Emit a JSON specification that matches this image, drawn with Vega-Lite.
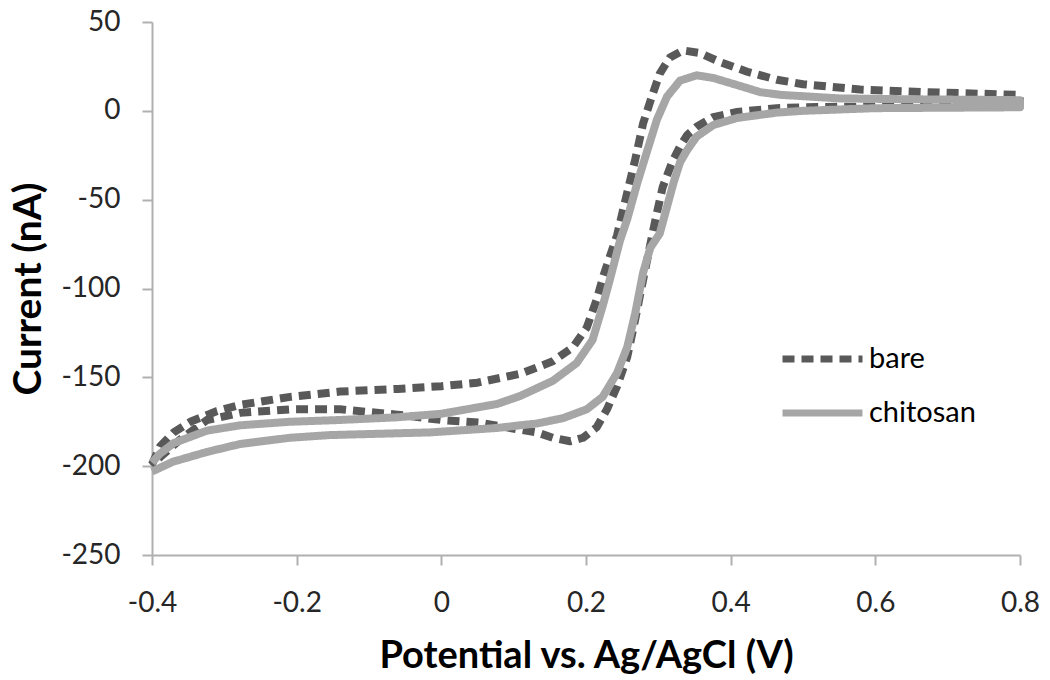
{
  "$schema": "https://vega.github.io/schema/vega-lite/v6.json",
  "width": 868,
  "height": 533,
  "autosize": {"type": "none"},
  "padding": {"left": 152, "top": 22, "right": 30, "bottom": 125},
  "background": "white",
  "config": {
    "view": {"stroke": null},
    "font": "Lato",
    "axis": {
      "grid": false,
      "domainColor": "#b0b0b0",
      "domainWidth": 2,
      "tickColor": "#b0b0b0",
      "tickWidth": 2,
      "tickSize": 10,
      "labelFont": "Lato",
      "labelFontSize": 28,
      "labelColor": "#262626",
      "titleFont": "Lato",
      "titleFontWeight": "bold",
      "titleColor": "#000000"
    }
  },
  "data": {
    "values": [
      {"series": "bare", "idx": 1, "v": -0.4, "i": -199},
      {"series": "bare", "idx": 2, "v": -0.389, "i": -189},
      {"series": "bare", "idx": 3, "v": -0.37, "i": -181},
      {"series": "bare", "idx": 4, "v": -0.347, "i": -175},
      {"series": "bare", "idx": 5, "v": -0.31, "i": -169},
      {"series": "bare", "idx": 6, "v": -0.278, "i": -165.5},
      {"series": "bare", "idx": 7, "v": -0.209, "i": -161},
      {"series": "bare", "idx": 8, "v": -0.14, "i": -158},
      {"series": "bare", "idx": 9, "v": -0.06, "i": -156.5},
      {"series": "bare", "idx": 10, "v": 0.0, "i": -155},
      {"series": "bare", "idx": 11, "v": 0.05, "i": -153},
      {"series": "bare", "idx": 12, "v": 0.109, "i": -148},
      {"series": "bare", "idx": 13, "v": 0.154, "i": -141},
      {"series": "bare", "idx": 14, "v": 0.182, "i": -133},
      {"series": "bare", "idx": 15, "v": 0.201, "i": -122},
      {"series": "bare", "idx": 16, "v": 0.215, "i": -106},
      {"series": "bare", "idx": 17, "v": 0.224, "i": -93},
      {"series": "bare", "idx": 18, "v": 0.233, "i": -82},
      {"series": "bare", "idx": 19, "v": 0.243, "i": -70},
      {"series": "bare", "idx": 20, "v": 0.257, "i": -46},
      {"series": "bare", "idx": 21, "v": 0.268, "i": -27.5},
      {"series": "bare", "idx": 22, "v": 0.279, "i": -7},
      {"series": "bare", "idx": 23, "v": 0.291, "i": 8},
      {"series": "bare", "idx": 24, "v": 0.302, "i": 21},
      {"series": "bare", "idx": 25, "v": 0.316, "i": 30},
      {"series": "bare", "idx": 26, "v": 0.334, "i": 34},
      {"series": "bare", "idx": 27, "v": 0.358, "i": 32.5},
      {"series": "bare", "idx": 28, "v": 0.385, "i": 27.5},
      {"series": "bare", "idx": 29, "v": 0.423, "i": 22},
      {"series": "bare", "idx": 30, "v": 0.464, "i": 17.5},
      {"series": "bare", "idx": 31, "v": 0.5, "i": 15},
      {"series": "bare", "idx": 32, "v": 0.579, "i": 12},
      {"series": "bare", "idx": 33, "v": 0.671, "i": 10.5},
      {"series": "bare", "idx": 34, "v": 0.8, "i": 9},
      {"series": "bare", "idx": 35, "v": 0.8, "i": 3.5},
      {"series": "bare", "idx": 36, "v": 0.7, "i": 3},
      {"series": "bare", "idx": 37, "v": 0.6, "i": 2.5},
      {"series": "bare", "idx": 38, "v": 0.5, "i": 2},
      {"series": "bare", "idx": 39, "v": 0.464, "i": 1.5},
      {"series": "bare", "idx": 40, "v": 0.409, "i": -0.6},
      {"series": "bare", "idx": 41, "v": 0.376, "i": -3.5},
      {"series": "bare", "idx": 42, "v": 0.353, "i": -9},
      {"series": "bare", "idx": 43, "v": 0.34, "i": -13.6},
      {"series": "bare", "idx": 44, "v": 0.33, "i": -20},
      {"series": "bare", "idx": 45, "v": 0.319, "i": -29},
      {"series": "bare", "idx": 46, "v": 0.306, "i": -43},
      {"series": "bare", "idx": 47, "v": 0.298, "i": -57.5},
      {"series": "bare", "idx": 48, "v": 0.291, "i": -71},
      {"series": "bare", "idx": 49, "v": 0.279, "i": -95},
      {"series": "bare", "idx": 50, "v": 0.268, "i": -117.5},
      {"series": "bare", "idx": 51, "v": 0.257, "i": -138.5},
      {"series": "bare", "idx": 52, "v": 0.243, "i": -155},
      {"series": "bare", "idx": 53, "v": 0.229, "i": -168},
      {"series": "bare", "idx": 54, "v": 0.215, "i": -178},
      {"series": "bare", "idx": 55, "v": 0.196, "i": -184},
      {"series": "bare", "idx": 56, "v": 0.178, "i": -186},
      {"series": "bare", "idx": 57, "v": 0.154, "i": -184},
      {"series": "bare", "idx": 58, "v": 0.132, "i": -181},
      {"series": "bare", "idx": 59, "v": 0.109, "i": -179.5},
      {"series": "bare", "idx": 60, "v": 0.053, "i": -175.5},
      {"series": "bare", "idx": 61, "v": 0.0, "i": -174},
      {"series": "bare", "idx": 62, "v": -0.061, "i": -171},
      {"series": "bare", "idx": 63, "v": -0.14, "i": -168},
      {"series": "bare", "idx": 64, "v": -0.209, "i": -168},
      {"series": "bare", "idx": 65, "v": -0.278, "i": -170},
      {"series": "bare", "idx": 66, "v": -0.324, "i": -174},
      {"series": "bare", "idx": 67, "v": -0.361, "i": -185},
      {"series": "bare", "idx": 68, "v": -0.389, "i": -195},
      {"series": "bare", "idx": 69, "v": -0.4, "i": -200},
      {"series": "chitosan", "idx": 101, "v": -0.4, "i": -198},
      {"series": "chitosan", "idx": 102, "v": -0.389, "i": -193},
      {"series": "chitosan", "idx": 103, "v": -0.37, "i": -187},
      {"series": "chitosan", "idx": 104, "v": -0.324, "i": -180},
      {"series": "chitosan", "idx": 105, "v": -0.278, "i": -177},
      {"series": "chitosan", "idx": 106, "v": -0.209, "i": -175},
      {"series": "chitosan", "idx": 107, "v": -0.14, "i": -174},
      {"series": "chitosan", "idx": 108, "v": -0.061, "i": -172.5},
      {"series": "chitosan", "idx": 109, "v": 0.0, "i": -170.5},
      {"series": "chitosan", "idx": 110, "v": 0.077, "i": -165},
      {"series": "chitosan", "idx": 111, "v": 0.109, "i": -160.5},
      {"series": "chitosan", "idx": 112, "v": 0.154, "i": -152},
      {"series": "chitosan", "idx": 113, "v": 0.187, "i": -142},
      {"series": "chitosan", "idx": 114, "v": 0.209, "i": -129},
      {"series": "chitosan", "idx": 115, "v": 0.223, "i": -110},
      {"series": "chitosan", "idx": 116, "v": 0.233, "i": -95},
      {"series": "chitosan", "idx": 117, "v": 0.247, "i": -73},
      {"series": "chitosan", "idx": 118, "v": 0.257, "i": -61},
      {"series": "chitosan", "idx": 119, "v": 0.271, "i": -40.5},
      {"series": "chitosan", "idx": 120, "v": 0.285, "i": -22},
      {"series": "chitosan", "idx": 121, "v": 0.298, "i": -5},
      {"series": "chitosan", "idx": 122, "v": 0.312, "i": 8},
      {"series": "chitosan", "idx": 123, "v": 0.33, "i": 17},
      {"series": "chitosan", "idx": 124, "v": 0.353, "i": 20},
      {"series": "chitosan", "idx": 125, "v": 0.376, "i": 18.5},
      {"series": "chitosan", "idx": 126, "v": 0.409, "i": 14.5},
      {"series": "chitosan", "idx": 127, "v": 0.441, "i": 10.5},
      {"series": "chitosan", "idx": 128, "v": 0.469, "i": 9},
      {"series": "chitosan", "idx": 129, "v": 0.55, "i": 7},
      {"series": "chitosan", "idx": 130, "v": 0.65, "i": 6.5},
      {"series": "chitosan", "idx": 131, "v": 0.8, "i": 6},
      {"series": "chitosan", "idx": 132, "v": 0.8, "i": 2},
      {"series": "chitosan", "idx": 133, "v": 0.6, "i": 1.5},
      {"series": "chitosan", "idx": 134, "v": 0.5, "i": 0},
      {"series": "chitosan", "idx": 135, "v": 0.464, "i": -1},
      {"series": "chitosan", "idx": 136, "v": 0.409, "i": -4},
      {"series": "chitosan", "idx": 137, "v": 0.376, "i": -8},
      {"series": "chitosan", "idx": 138, "v": 0.353, "i": -14.5},
      {"series": "chitosan", "idx": 139, "v": 0.34, "i": -22},
      {"series": "chitosan", "idx": 140, "v": 0.33, "i": -29},
      {"series": "chitosan", "idx": 141, "v": 0.321, "i": -40.5},
      {"series": "chitosan", "idx": 142, "v": 0.312, "i": -54},
      {"series": "chitosan", "idx": 143, "v": 0.302, "i": -69},
      {"series": "chitosan", "idx": 144, "v": 0.289, "i": -77},
      {"series": "chitosan", "idx": 145, "v": 0.279, "i": -91},
      {"series": "chitosan", "idx": 146, "v": 0.268, "i": -114},
      {"series": "chitosan", "idx": 147, "v": 0.257, "i": -133},
      {"series": "chitosan", "idx": 148, "v": 0.243, "i": -147.5},
      {"series": "chitosan", "idx": 149, "v": 0.223, "i": -161},
      {"series": "chitosan", "idx": 150, "v": 0.201, "i": -168},
      {"series": "chitosan", "idx": 151, "v": 0.168, "i": -173},
      {"series": "chitosan", "idx": 152, "v": 0.132, "i": -176},
      {"series": "chitosan", "idx": 153, "v": 0.109, "i": -177},
      {"series": "chitosan", "idx": 154, "v": 0.077, "i": -178.5},
      {"series": "chitosan", "idx": 155, "v": -0.016, "i": -181},
      {"series": "chitosan", "idx": 156, "v": -0.154, "i": -182.5},
      {"series": "chitosan", "idx": 157, "v": -0.209, "i": -184},
      {"series": "chitosan", "idx": 158, "v": -0.278, "i": -187.5},
      {"series": "chitosan", "idx": 159, "v": -0.324, "i": -192},
      {"series": "chitosan", "idx": 160, "v": -0.371, "i": -197.5},
      {"series": "chitosan", "idx": 161, "v": -0.4, "i": -203}
    ]
  },
  "mark": {"type": "line", "strokeWidth": 8, "strokeCap": "butt", "strokeJoin": "round"},
  "encoding": {
    "x": {
      "field": "v",
      "type": "quantitative",
      "scale": {"domain": [-0.4, 0.8], "nice": false, "zero": false},
      "axis": {
        "title": "Potential vs. Ag/AgCl (V)",
        "titleFontSize": 38,
        "values": [-0.4, -0.2, 0, 0.2, 0.4, 0.6, 0.8],
        "labelExpr": "datum.value < 0 ? '-' + (-datum.value) : '' + datum.value",
        "labelPadding": 24,
        "titlePadding": 20,
        "labelFlush": false
      }
    },
    "y": {
      "field": "i",
      "type": "quantitative",
      "scale": {"domain": [-250, 50], "nice": false, "zero": false},
      "axis": {
        "title": "Current (nA)",
        "titleFontSize": 39,
        "values": [-250, -200, -150, -100, -50, 0, 50],
        "labelExpr": "datum.value < 0 ? '-' + (-datum.value) : '' + datum.value",
        "labelPadding": 22,
        "titlePadding": 12,
        "labelFlush": false
      }
    },
    "color": {
      "field": "series",
      "type": "nominal",
      "scale": {"domain": ["bare", "chitosan"], "range": ["#595959", "#a6a6a6"]},
      "legend": {
        "title": null,
        "orient": "none",
        "legendX": 627,
        "legendY": 322,
        "padding": 0,
        "symbolType": "stroke",
        "symbolSize": 6400,
        "symbolStrokeWidth": 7,
        "labelFont": "Lato",
        "labelFontSize": 29,
        "labelColor": "#000000",
        "labelOffset": 3,
        "clipHeight": 30,
        "rowPadding": 24
      }
    },
    "strokeDash": {
      "field": "series",
      "type": "nominal",
      "scale": {"domain": ["bare", "chitosan"], "range": [[12, 7], [1, 0]]}
    },
    "order": {"field": "idx", "type": "quantitative"}
  }
}
